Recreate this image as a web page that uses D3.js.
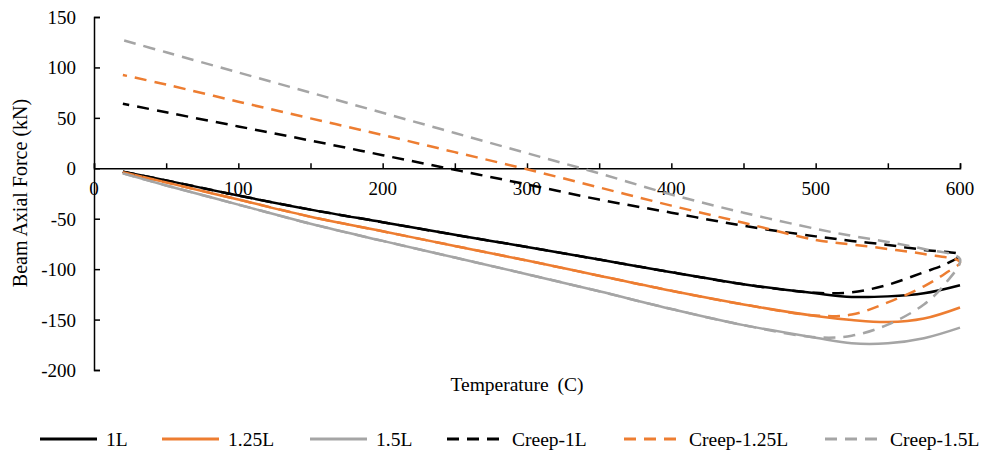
<!DOCTYPE html>
<html>
<head>
<meta charset="utf-8">
<script src="https://cdn.jsdelivr.net/npm/d3@7"></script>
<style>
  body { margin: 0; background: #fff; }
  text { font-family: "Liberation Serif", "Times New Roman", serif; fill: #000; }
</style>
</head>
<body>
<div id="chart"></div>
<script>
// temperatures for the plain runs
var temps = [20, 50, 100, 150, 200, 250, 300, 350, 400, 450, 500, 525, 550, 575, 600];
var force1L   = [-3.5, -12, -27, -41, -53.5, -66, -78, -90.5, -103, -115, -124, -127.5, -127, -124, -116];
var force125L = [-4, -14, -31, -48, -62.5, -77, -91.5, -106.5, -121.5, -135, -146.5, -150.5, -152.5, -149, -138];
var force15L  = [-5, -17, -36, -55, -72, -88.5, -105, -122, -139.5, -155.5, -168, -173.5, -173.5, -168.5, -158];

// creep runs: heat up to 600 then cool back to 20
var creepTemps = [20, 50, 100, 150, 200, 250, 300, 350, 400, 450, 500, 525, 550, 575, 590, 600,
                  575, 550, 525, 500, 450, 400, 350, 300, 250, 200, 150, 100, 50, 20];
var creep1L   = [-3.5, -12, -27, -41, -53.5, -66, -78, -90.5, -103, -115, -123.5, -123, -115.5, -103, -95, -86,
                 -81, -76, -72, -67.5, -57, -44, -31, -16, -1.5, 13, 27.5, 41.5, 55.5, 64];
var creep125L = [-4, -14, -31, -48, -62.5, -77, -91.5, -106.5, -121.5, -135, -146, -145, -133, -117, -104, -93,
                 -85, -80, -75.5, -71, -54, -37, -19, -1, 16, 33, 49.5, 66, 83, 92.5];
var creep15L  = [-5, -17, -36, -55, -72, -88.5, -105, -122, -139.5, -155.5, -167.5, -166, -155, -135, -114, -90,
                 -80, -73, -67, -60, -44, -26, -5, 15, 35, 55, 75, 95, 115, 127];

var seriesNames = ['1L', '1.25L', '1.5L', 'Creep-1L', 'Creep-1.25L', 'Creep-1.5L'];
var colors = ['#000000', '#ED7D31', '#A5A5A5', '#000000', '#ED7D31', '#A5A5A5'];

var xTicks = [0, 50, 100, 150, 200, 250, 300, 350, 400, 450, 500, 550, 600];
var yTicks = [150, 100, 50, 0, -50, -100, -150, -200];

var width = 987, height = 455;

var series = [
  { name: seriesNames[0], t: temps, f: force1L, dash: false },
  { name: seriesNames[1], t: temps, f: force125L, dash: false },
  { name: seriesNames[2], t: temps, f: force15L, dash: false },
  { name: seriesNames[3], t: creepTemps, f: creep1L, dash: true },
  { name: seriesNames[4], t: creepTemps, f: creep125L, dash: true },
  { name: seriesNames[5], t: creepTemps, f: creep15L, dash: true }
];

var x = d3.scaleLinear().domain([0, 600]).range([94, 960]);
var y = d3.scaleLinear().domain([-200, 150]).range([370, 17]);

var svg = d3.select('#chart')
  .append('svg')
  .attr('width', width)
  .attr('height', height);

// x axis sits on zero
var xAxis = svg.append('g')
  .attr('transform', 'translate(0,' + y(0) + ')')
  .call(d3.axisTop(x).tickValues(xTicks).tickSize(5).tickFormat(''));
xAxis.select('.domain').attr('stroke', '#000').attr('stroke-width', 1.5);
xAxis.selectAll('.tick line').attr('stroke', '#000').attr('stroke-width', 1.5);

svg.append('g').selectAll('text')
  .data(xTicks.filter(function(d) { return d % 100 === 0; }))
  .enter()
  .append('text')
  .attr('x', function(d) { return x(d); })
  .attr('y', y(0) + 27)
  .attr('text-anchor', 'middle')
  .style('font-size', '19px')
  .text(function(d) { return d; });

var yAxis = svg.append('g')
  .attr('transform', 'translate(' + x(0) + ',0)')
  .call(d3.axisRight(y).tickValues(yTicks).tickSize(6).tickFormat(''));
yAxis.select('.domain').attr('stroke', '#000').attr('stroke-width', 1.5);
yAxis.selectAll('.tick line').attr('stroke', '#000').attr('stroke-width', 1.5);

svg.append('g').selectAll('text')
  .data(yTicks)
  .enter()
  .append('text')
  .attr('x', 76)
  .attr('y', function(d) { return y(d) + 7; })
  .attr('text-anchor', 'end')
  .style('font-size', '19px')
  .text(function(d) { return String(d); });

// lines
var line = d3.line()
  .x(function(d) { return x(d[0]); })
  .y(function(d) { return y(d[1]); })
  .curve(d3.curveCatmullRom.alpha(0.5));

svg.append('g').selectAll('path')
  .data(series)
  .enter()
  .append('path')
  .attr('d', function(s) { return line(d3.zip(s.t, s.f)); })
  .attr('fill', 'none')
  .attr('stroke', function(s, i) { return colors[i]; })
  .attr('stroke-width', 2.5)
  .attr('stroke-dasharray', function(s) { return s.dash ? '12,8' : null; });

// axis titles
svg.append('text')
  .attr('x', 517)
  .attr('y', 391)
  .attr('text-anchor', 'middle')
  .style('font-size', '19.5px')
  .style('word-spacing', '4px')
  .text('Temperature (C)');

svg.append('text')
  .attr('transform', 'translate(27,193) rotate(-90)')
  .attr('text-anchor', 'middle')
  .style('font-size', '20px')
  .text('Beam Axial Force (kN)');

// legend
var legendX = [40, 162, 310, 447, 624, 825];
var legend = svg.append('g').selectAll('g')
  .data(series)
  .enter()
  .append('g')
  .attr('transform', function(s, i) { return 'translate(' + legendX[i] + ',439)'; });

legend.append('line')
  .attr('x1', 0).attr('x2', 57)
  .attr('stroke', function(s, i) { return colors[i]; })
  .attr('stroke-width', 3)
  .attr('stroke-dasharray', function(s) { return s.dash ? '12,8' : null; });

legend.append('text')
  .attr('x', function(s) { return s.dash ? 65 : 66; })
  .attr('y', 6.5)
  .style('font-size', '19.5px')
  .text(function(s) { return s.name; });
</script>
</body>
</html>
